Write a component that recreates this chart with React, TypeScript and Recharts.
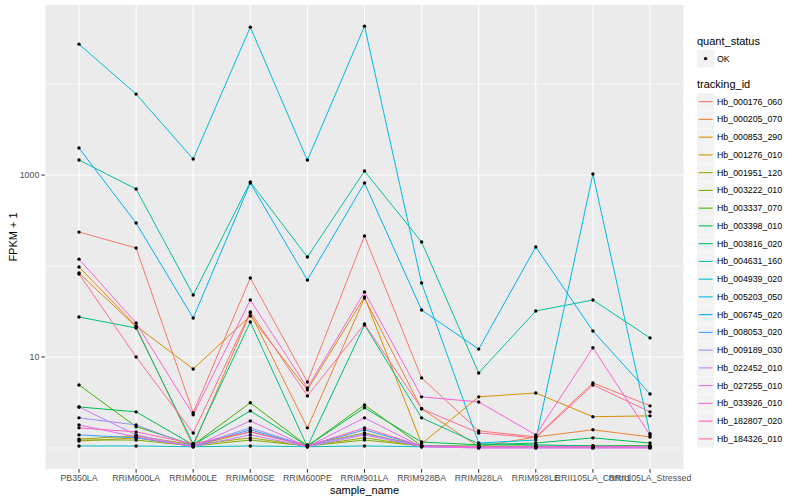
import React from 'react';
import { LineChart, Line, XAxis, YAxis, CartesianGrid } from 'recharts';

const sampleNames = [
  'PB350LA', 'RRIM600LA', 'RRIM600LE', 'RRIM600SE', 'RRIM600PE', 'RRIM901LA',
  'RRIM928BA', 'RRIM928LA', 'RRIM928LE', 'RRII105LA_Control', 'RRII105LA_Stressed',
];

const trackingIds = [
  'Hb_000176_060', 'Hb_000205_070', 'Hb_000853_290', 'Hb_001276_010', 'Hb_001951_120',
  'Hb_003222_010', 'Hb_003337_070', 'Hb_003398_010', 'Hb_003816_020', 'Hb_004631_160',
  'Hb_004939_020', 'Hb_005203_050', 'Hb_006745_020', 'Hb_008053_020', 'Hb_009189_030',
  'Hb_022452_010', 'Hb_027255_010', 'Hb_033926_010', 'Hb_182807_020', 'Hb_184326_010',
];

const seriesColors = [
  '#F8766D', '#EA8331', '#D89000', '#C09B00', '#A3A500', '#7CAE00', '#39B600', '#00BB4E',
  '#00BF7D', '#00C1A3', '#00BFC4', '#00BAE0', '#00B0F6', '#35A2FF', '#9590FF', '#C77CFF',
  '#E76BF3', '#FA62DB', '#FF62BC', '#FF6C91',
];

// FPKM + 1 values, one per sample
const hb000176_060 = [236, 158, 2.43, 73.8, 5.31, 214, 5.88, 1.54, 1.32, 5.18, 2.9];
const hb000205_070 = [83.8, 21.4, 1.05, 30.5, 1.66, 44.5, 2.69, 1.03, 1.32, 1.58, 1.32];
const hb000853_290 = [97.5, 21.9, 7.38, 28.2, 4.34, 45.6, 1.11, 3.64, 4.02, 2.2, 2.25];
const hb001276_010 = [1.19, 1.29, 1.05, 1.5, 1.08, 1.46, 1.05, 1.03, 1.03, 1.03, 1.03];
const hb001951_120 = [1.25, 1.36, 1.08, 1.29, 1.05, 1.29, 1.05, 1.03, 1.03, 1.03, 1.03];
const hb003222_010 = [1.22, 1.22, 1.05, 1.22, 1.05, 1.22, 1.05, 1.03, 1.03, 1.05, 1.05];
const hb003337_070 = [4.92, 1.71, 1.08, 3.13, 1.05, 2.97, 1.05, 1.05, 1.05, 1.05, 1.05];
const hb003398_010 = [2.82, 2.49, 1.08, 2.55, 1.05, 2.76, 1.16, 1.08, 1.13, 1.29, 1.13];
const hb003816_020 = [27.5, 20.8, 1.11, 24.2, 1.03, 22.5, 2.14, 1.11, 1.08, 1.05, 1.05];
const hb004631_160 = [1462, 702, 48, 838, 125.5, 1107, 183.5, 6.67, 32, 42.3, 16.2];
const hb004939_020 = [1.05, 1.05, 1.03, 1.05, 1.03, 1.05, 1.03, 1.03, 1.03, 1.03, 1.03];
const hb005203_050 = [27500, 7760, 1500, 42300, 1462, 43400, 65, 1.13, 1.22, 1026, 1.43];
const hb006745_020 = [1980, 297, 26.8, 817, 70, 817, 32.8, 12.2, 162, 19.3, 3.92];
const hb008053_020 = [1.39, 1.29, 1.05, 1.58, 1.05, 1.58, 1.05, 1.03, 1.03, 1.03, 1.03];
const hb009189_030 = [2.14, 1.79, 1.05, 1.66, 1.05, 1.43, 1.05, 1.03, 1.03, 1.03, 1.03];
const hb022452_010 = [2.82, 1.39, 1.03, 1.39, 1.03, 1.39, 1.03, 1.0, 1.0, 1.0, 1.0];
const hb027255_010 = [1.79, 1.32, 1.03, 1.98, 1.03, 2.14, 1.03, 1.0, 1.0, 1.0, 1.0];
const hb033926_010 = [119, 23.6, 2.31, 42.3, 4.56, 51.8, 3.64, 3.2, 1.39, 12.6, 1.39];
const hb182807_020 = [1.66, 1.5, 1.11, 1.5, 1.05, 1.66, 1.05, 1.03, 1.03, 1.03, 1.03];
const hb184326_010 = [81.7, 10, 1.46, 31.2, 3.73, 23.0, 2.69, 1.46, 1.29, 4.92, 2.49];

const seriesValues = [
  hb000176_060, hb000205_070, hb000853_290, hb001276_010, hb001951_120,
  hb003222_010, hb003337_070, hb003398_010, hb003816_020, hb004631_160,
  hb004939_020, hb005203_050, hb006745_020, hb008053_020, hb009189_030,
  hb022452_010, hb027255_010, hb033926_010, hb182807_020, hb184326_010,
];

const yTicks = [10, 1000];
const yMinor = [1, 100, 10000];

const data = sampleNames.map((name, i) => {
  const row: Record<string, number | string> = { sample: name };
  trackingIds.forEach((id, k) => {
    row[id] = seriesValues[k][i];
  });
  return row;
});

const FONT = '"Liberation Sans", Arial, Helvetica, sans-serif';

const LegendBox = () => (
  <svg
    width={110}
    height={430}
    style={{ position: 'absolute', left: 690, top: 30, fontFamily: FONT }}
  >
    <text x={7} y={11} fontSize={11} dominantBaseline="central" fill="#000">quant_status</text>
    <rect x={7} y={20} width={17.3} height={17.3} fill="#F2F2F2" />
    <circle cx={15.6} cy={28.6} r={1.7} fill="#000" />
    <text x={27} y={28.6} fontSize={8.8} dominantBaseline="central" fill="#000">OK</text>
    <text x={7} y={54} fontSize={11} dominantBaseline="central" fill="#000">tracking_id</text>
    {trackingIds.map((id, i) => {
      const top = 63 + i * 17.75;
      const cy = top + 8.64;
      return (
        <g key={id}>
          <rect x={7} y={top} width={17.3} height={17.3} fill="#F2F2F2" />
          <line x1={8.7} x2={22.6} y1={cy} y2={cy} stroke={seriesColors[i]} strokeWidth={1.1} />
          <text x={27} y={cy} fontSize={8.8} dominantBaseline="central" fill="#000">{id}</text>
        </g>
      );
    })}
  </svg>
);

export default function App() {
  return (
    <div style={{ position: 'absolute', left: 0, top: 0, width: 800, height: 500, background: '#fff', fontFamily: FONT }}>
      <LineChart
        width={800}
        height={500}
        data={data}
        margin={{ top: 5, right: 116, left: 0, bottom: 0 }}
      >
        <CartesianGrid
          fill="#EBEBEB"
          stroke="#FFFFFF"
          strokeWidth={1.07}
          horizontalValues={yTicks}
          vertical={true}
        />
        <CartesianGrid
          stroke="#FFFFFF"
          strokeWidth={0.53}
          horizontalValues={yMinor}
          vertical={false}
        />
        <XAxis
          dataKey="sample"
          type="category"
          interval={0}
          padding={{ left: 34, right: 34 }}
          height={31}
          axisLine={false}
          tickSize={3.7}
          tickMargin={2}
          tickLine={{ stroke: '#333333', strokeWidth: 1 }}
          tick={{ fontSize: 8.8, fill: '#4D4D4D', fontFamily: FONT }}
          label={{ value: 'sample_name', position: 'insideBottom', offset: 6, fontSize: 11, fill: '#000', fontFamily: FONT }}
        />
        <YAxis
          type="number"
          scale="log"
          domain={[0.586, 74100]}
          allowDataOverflow={true}
          ticks={yTicks}
          width={45}
          axisLine={false}
          tickSize={3.7}
          tickMargin={2}
          tickLine={{ stroke: '#333333', strokeWidth: 1 }}
          tick={{ fontSize: 8.8, fill: '#4D4D4D', fontFamily: FONT }}
          tickFormatter={(v: number) => String(v)}
          label={{
            content: () => (
              <text
                x={13}
                y={237}
                transform="rotate(-90 13 237)"
                textAnchor="middle"
                dominantBaseline="central"
                fontSize={11}
                fill="#000"
                fontFamily={FONT}
              >
                FPKM + 1
              </text>
            ),
          }}
        />
        {trackingIds.map((id, i) => (
          <Line
            key={id}
            dataKey={id}
            type="linear"
            stroke={seriesColors[i]}
            strokeWidth={1}
            dot={false}
            activeDot={false}
            isAnimationActive={false}
          />
        ))}
        {trackingIds.map((id) => (
          <Line
            key={id + '_pts'}
            dataKey={id}
            type="linear"
            stroke="none"
            dot={{ r: 1.7, fill: '#000', stroke: 'none' }}
            activeDot={false}
            isAnimationActive={false}
            legendType="none"
          />
        ))}
      </LineChart>
      <LegendBox />
    </div>
  );
}
